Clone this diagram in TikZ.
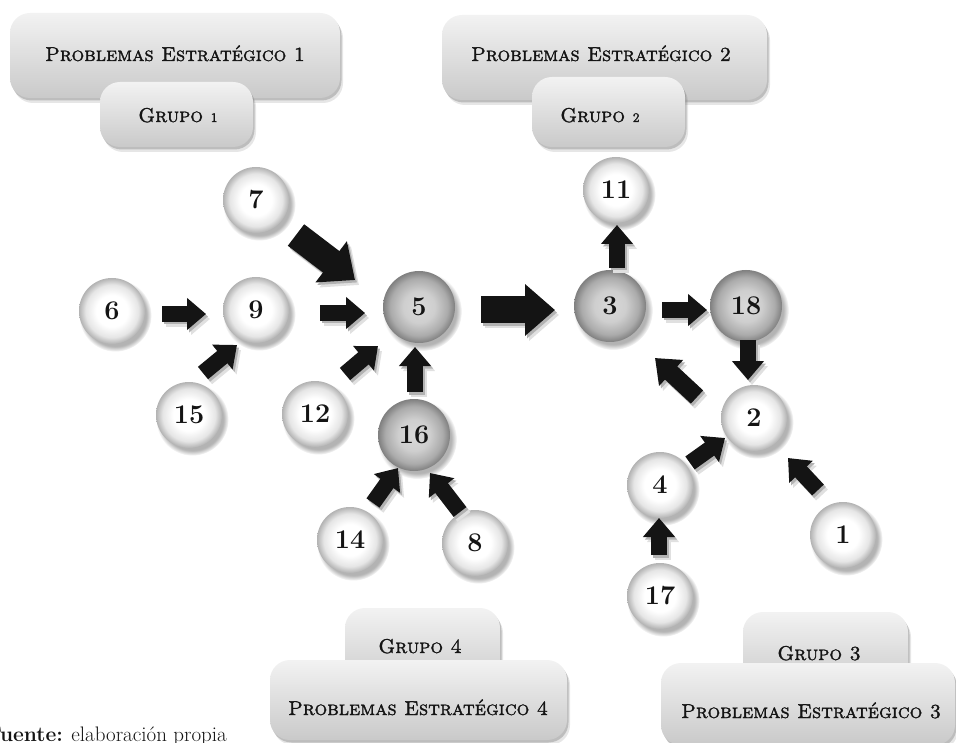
\documentclass[tikz,border=0pt]{standalone}
\usetikzlibrary{shadows,shadings,fadings,arrows.meta,calc}
\font\pecaps="[lmromancaps10-regular.otf]:embolden=1.6;mapping=tex-text" at 20pt
\font\pesmall="[lmromancaps10-regular.otf]:embolden=1.6;mapping=tex-text" at 13pt
\pgfdeclareradialshading{wball}{\pgfpoint{0bp}{0bp}}{color(0bp)=(white); color(12bp)=(white); color(20bp)=(black!10); color(25bp)=(black!30); color(50bp)=(black!30)}
\pgfdeclareradialshading{gball}{\pgfpoint{0bp}{0bp}}{color(0bp)=(black!15); color(11bp)=(black!19); color(20bp)=(black!33); color(25bp)=(black!50); color(50bp)=(black!50)}
\tikzset{
  ball/.style={circle, inner sep=0pt, text=black!92,
    font=\fontsize{27}{30}\selectfont\bfseries,
    circular drop shadow={shadow xshift=3pt, shadow yshift=-4pt, shadow scale=1.1, opacity=0.6}},
  wc/.style={ball, minimum size=66pt, shading=wball},
  gc/.style={ball, minimum size=72pt, shading=gball},
  boxshape/.style={rounded corners=20pt, inner sep=0pt, top color=black!5, bottom color=black!21,
    drop shadow={shadow xshift=3pt, shadow yshift=-5pt, opacity=0.2},
    drop shadow={shadow xshift=1.5pt, shadow yshift=-2.5pt, opacity=0.4}},
  boxtext/.style={anchor=base, inner sep=0pt, text=black!92, font=\pecaps},
  sa/.style={line width=16pt, -{Triangle[width=31pt,length=19pt]}},
  ma/.style={line width=18pt, -{Triangle[width=34pt,length=22pt]}},
  ba/.style={line width=27pt, -{Triangle[width=50pt,length=30pt]}},
}
\begin{document}
\begin{tikzpicture}[x=1pt,y=-1pt]
\useasboundingbox (0,0) rectangle (956,743);
% boxes
\node[boxshape, minimum width=330pt, minimum height=85pt] (pe1box) at (175,55.5) {};
\node[boxtext] (pe1) at (175,61) {Problemas Estratégico 1};
\node[boxshape, minimum width=153pt, minimum height=65pt] (g1box) at (176.5,114.5) {};
\node[boxtext] (g1) at (178,122) {Grupo {\pesmall 1}};
\node[boxshape, minimum width=325pt, minimum height=85pt] (pe2box) at (604.5,57.5) {};
\node[boxtext] (pe2) at (601,61) {Problemas Estratégico 2};
\node[boxshape, minimum width=153pt, minimum height=70pt] (g2box) at (608.5,112) {};
\node[boxtext] (g2) at (600,122) {Grupo {\pesmall 2}};
\node[boxshape, minimum width=155pt, minimum height=82pt] (g4box) at (422.5,649) {};
\node[boxtext] (g4) at (420,653) {Grupo 4};
\node[boxshape, minimum width=297pt, minimum height=80pt] (pe4box) at (418.5,700) {};
\node[boxtext] (pe4) at (418,715) {Problemas Estratégico 4};
\node[boxshape, minimum width=165pt, minimum height=78pt] (g3box) at (825.5,651) {};
\node[boxtext] (g3) at (819,660) {Grupo 3};
\node[boxshape, minimum width=294pt, minimum height=82pt] (pe3box) at (808,704) {};
\node[boxtext] (pe3) at (811,718) {Problemas Estratégico 3};
% circles
\foreach \n/\p/\c in {7/{256,200}/wc, 6/{112,311}/wc, 9/{256,310}/wc, 15/{189,415}/wc,
  12/{315,414}/wc, 5/{419,307}/gc, 16/{414,435}/gc, 14/{350,540}/wc, 8/{475,543}/wc,
  3/{610,306}/gc, 11/{616,190}/wc, 18/{746,306}/gc, 2/{754,418}/wc, 4/{660,485}/wc,
  1/{843,535}/wc, 17/{660,596}/wc}
  {\node[\c] (n\n) at (\p) {\n};}
% arrows
\foreach \s/\a/\t/\b/\st in {
  n6/{50,3}/n9/{-50,4}/sa, n15/{14,-42}/n9/{-19,35}/sa, n7/{40,35}/n5/{-64,-27}/ba,
  n9/{64,3}/n5/{-54,6}/sa, n12/{30,-40}/n5/{-41,39}/sa, n16/{1,-43}/n5/{-4,40}/sa,
  n14/{23,-37}/n16/{-16,33}/sa, n8/{-15,-31}/n16/{16,38}/sa, n5/{62,3}/n3/{-55,4}/ba,
  n3/{7,-38}/n11/{1,35}/sa, n3/{52,4}/n18/{-39,4}/sa, n18/{2,34}/n2/{-6,-38}/sa,
  n2/{-57,-21}/n3/{45,52}/ma, n4/{30,-22}/n2/{-29,20}/sa, n17/{-1,-41}/n4/{-1,33}/sa,
  n1/{-25,-45}/n2/{34,40}/sa}
{
  \draw[\st, black!12, transform canvas={shift={(4pt,-5pt)}}] ($(\s)+(\a)$) -- ($(\t)+(\b)$);
  \draw[\st, black!30, transform canvas={shift={(2pt,-2.5pt)}}] ($(\s)+(\a)$) -- ($(\t)+(\b)$);
  \draw[\st, black!92] ($(\s)+(\a)$) -- ($(\t)+(\b)$);
}
% source
\node[anchor=base west, inner sep=0pt, text=black!92, font=\fontsize{21}{24}\selectfont] (src) at (-13,741) {\textbf{Fuente:} elaboración propia};
\end{tikzpicture}
\end{document}
